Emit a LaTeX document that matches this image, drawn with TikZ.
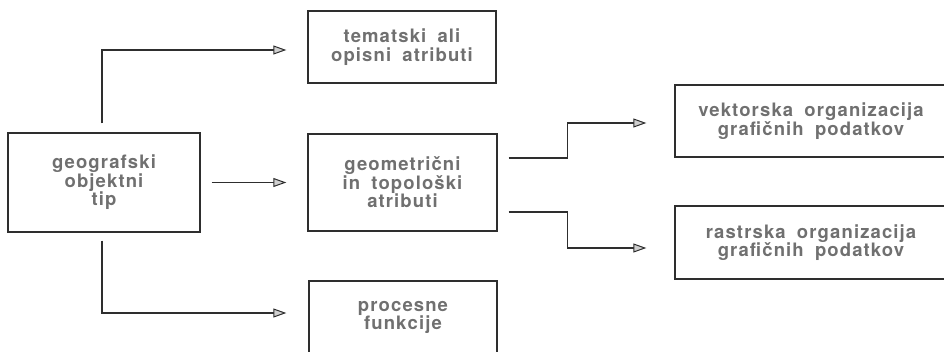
\documentclass[tikz,border=0pt]{standalone}
\usepackage{fontspec}
\setmainfont{TeX Gyre Heros}[LetterSpace=6,WordSpace=1.8]
\usetikzlibrary{arrows.meta}
\definecolor{ink}{HTML}{2E2E2E}
\definecolor{txt}{HTML}{707070}
\definecolor{headfill}{HTML}{D0D0D0}
\tikzset{
  box/.style={draw=ink, line width=1.4pt, rectangle, inner sep=0pt,
    text=txt, align=center, font=\fontsize{18.5}{18.5}\selectfont\bfseries},
  conn/.style={draw=ink, line width=1.1pt,
    -{Triangle[length=13pt, width=9pt, line width=1pt, fill=headfill]}},
}
\begin{document}
\begin{tikzpicture}[x=1pt,y=-1pt]
\useasboundingbox (0,0) rectangle (944,351);
\node[box, minimum width=192pt, minimum height=99pt] (geo) at (104,182.5) {geografski\\objektni\\tip};
\node[box, minimum width=188pt, minimum height=72pt] (tem) at (402,47) {tematski ali\\opisni atributi};
\node[box, minimum width=189pt, minimum height=97pt] (geom) at (402.5,182.5) {geometrični\\in topološki\\atributi};
\node[box, minimum width=188pt, minimum height=73pt] (proc) at (403,317.5) {procesne\\funkcije};
\node[box, minimum width=272pt, minimum height=72pt] (vek) at (811,121) {vektorska organizacija\\grafičnih podatkov};
\node[box, minimum width=272pt, minimum height=73pt] (ras) at (811,242.5) {rastrska organizacija\\grafičnih podatkov};

\draw[conn, shorten <=9pt, shorten >=21pt] ([xshift=-2pt]geo.north) |- ([yshift=-3pt]tem.west);
\draw[conn, shorten <=11pt, shorten >=21pt] (geo.east) -- (geom.west);
\draw[conn, shorten <=8pt, shorten >=22pt] ([xshift=-2pt]geo.south) |- ([yshift=4.5pt]proc.west);
\draw[conn, shorten <=11pt, shorten >=28pt] ([yshift=24.5pt]geom.east) -- ++(70,0) |- ([yshift=-2pt]vek.west);
\draw[conn, shorten <=11pt, shorten >=28pt] ([yshift=-29.5pt]geom.east) -- ++(70,0) |- ([yshift=-5.5pt]ras.west);
\end{tikzpicture}
\end{document}
